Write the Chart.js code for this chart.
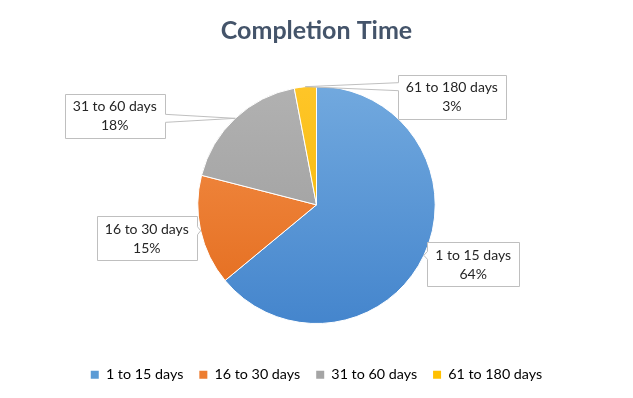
<!DOCTYPE html>
<html>
<head>
<meta charset="utf-8">
<script src="https://cdn.jsdelivr.net/npm/chart.js@4"></script>
<style>
    html, body { margin: 0; padding: 0; background: #ffffff; }
    #wrap { width: 633px; height: 398px; }
</style>
</head>
<body>
<div id="wrap"><canvas id="pieChart"></canvas></div>
<script>
const categories = ["1 to 15 days", "16 to 30 days", "31 to 60 days", "61 to 180 days"];
const shares = [64, 15, 18, 3];
const percentLabels = ["64%", "15%", "18%", "3%"];

const topColors = ["#73AADF", "#F5924C", "#B2B2B2", "#FFC629"];
const bottomColors = ["#4384CC", "#E2691A", "#999999", "#F0B400"];
const legendColors = ["#5B9BD5", "#ED7D31", "#A5A5A5", "#FFC000"];

// where each label box sits, relative to the pie centre, in radius units
const boxOffsets = [[1.32, 0.5], [-1.43, 0.28], [-1.70, -0.75], [1.14, -0.91]];

const labelFont = "14px Lato";

const calloutPlugin = {
    id: "callouts",
    afterDatasetsDraw(chart) {
        const ctx = chart.ctx;
        const meta = chart.getDatasetMeta(0);
        ctx.save();
        ctx.font = labelFont;
        meta.data.forEach((arc, i) => {
            const p = arc.getProps(["x", "y", "startAngle", "endAngle", "outerRadius"], true);
            const mid = (p.startAngle + p.endAngle) / 2;
            const ax = p.x + Math.cos(mid) * p.outerRadius;
            const ay = p.y + Math.sin(mid) * p.outerRadius;

            const lines = [categories[i], percentLabels[i]];
            const w = Math.max(...lines.map(t => ctx.measureText(t).width)) + 16;
            const h = 44;
            const cx = p.x + boxOffsets[i][0] * p.outerRadius;
            const cy = p.y + boxOffsets[i][1] * p.outerRadius;
            const left = Math.round(cx - w / 2) + 0.5;
            const right = Math.round(cx + w / 2) + 0.5;
            const top = Math.round(cy - h / 2) + 0.5;
            const bottom = Math.round(cy + h / 2) + 0.5;

            const onRight = ax > right;
            const baseY = Math.min(Math.max(ay, top + 7), bottom - 7);

            ctx.beginPath();
            ctx.moveTo(left, top);
            ctx.lineTo(right, top);
            if (onRight) {
                ctx.lineTo(right, baseY - 4);
                ctx.lineTo(ax, ay);
                ctx.lineTo(right, baseY + 4);
            }
            ctx.lineTo(right, bottom);
            ctx.lineTo(left, bottom);
            if (!onRight) {
                ctx.lineTo(left, baseY + 4);
                ctx.lineTo(ax, ay);
                ctx.lineTo(left, baseY - 4);
            }
            ctx.closePath();
            ctx.fillStyle = "#ffffff";
            ctx.fill();
            ctx.strokeStyle = "#BFBFBF";
            ctx.lineWidth = 1;
            ctx.stroke();

            ctx.fillStyle = "#262626";
            ctx.textAlign = "center";
            ctx.textBaseline = "middle";
            ctx.fillText(lines[0], cx, cy - 9);
            ctx.fillText(lines[1], cx, cy + 10);
        });
        ctx.restore();
    }
};

function sliceGradient(context) {
    const area = context.chart.chartArea;
    const i = context.dataIndex;
    if (!area) {
        return legendColors[i];
    }
    const g = context.chart.ctx.createLinearGradient(0, area.top + 20, 0, area.bottom - 20);
    g.addColorStop(0, topColors[i]);
    g.addColorStop(1, bottomColors[i]);
    return g;
}

window.onload = function () {

    const ctx = document.getElementById("pieChart");

    new Chart(ctx, {
        type: "pie",
        data: {
            labels: categories,
            datasets: [
                {
                    data: shares,
                    backgroundColor: sliceGradient,
                    borderColor: "#ffffff",
                    borderWidth: 1,
                    radius: "81.1%"
                }
            ]
        },
        options: {
            responsive: true,
            maintainAspectRatio: false,
            animation: false,
            layout: {
                padding: { top: 0, bottom: 6 }
            },
            plugins: {
                title: {
                    display: true,
                    text: "Completion Time",
                    color: "#44546A",
                    font: { family: "Lato", size: 25, weight: "bold" },
                    padding: { top: 16, bottom: 12 }
                },
                legend: {
                    position: "bottom",
                    labels: {
                        color: "#595959",
                        font: { family: "Lato", size: 14.3 },
                        boxWidth: 8,
                        boxHeight: 8,
                        padding: 16,
                        generateLabels(chart) {
                            return categories.map((c, i) => ({
                                text: c,
                                fillStyle: legendColors[i],
                                strokeStyle: legendColors[i],
                                lineWidth: 0,
                                index: i
                            }));
                        }
                    }
                },
                tooltip: { enabled: false }
            }
        },
        plugins: [calloutPlugin]
    });
};
</script>
</body>
</html>
